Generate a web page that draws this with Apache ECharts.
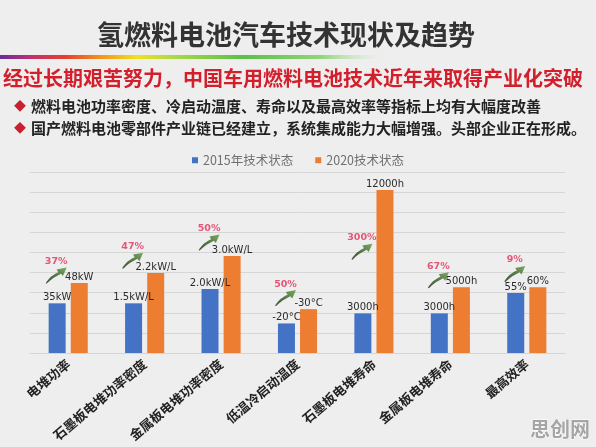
<!DOCTYPE html>
<html>
<head>
<meta charset="utf-8">
<script src="https://cdn.jsdelivr.net/npm/echarts@6/dist/echarts.min.js"></script>
<style>
html,body{margin:0;padding:0;background:#eeeeee;}
#chart{width:596px;height:447px;}
</style>
</head>
<body>
<div id="chart"></div>
<script>
// ---- data ----
const categories = ['电堆功率','石墨板电堆功率密度','金属板电堆功率密度','低温冷启动温度','石墨板电堆寿命','金属板电堆寿命','最高效率'];
const seriesNames = ['2015年技术状态','2020技术状态'];
// drawn bar heights (relative, in gridline units)
const barHeights2015 = [2.47, 2.47, 3.18, 1.47, 1.97, 1.97, 2.98];
const barHeights2020 = [3.48, 3.98, 4.82, 2.18, 8.10, 3.27, 3.27];
const valueLabels2015 = ['35kW','1.5kW/L','2.0kW/L','-20°C','3000h','3000h','55%'];
const valueLabels2020 = ['48kW','2.2kW/L','3.0kW/L','-30°C','12000h','5000h','60%'];
const improvementLabels = ['37%','47%','50%','50%','300%','67%','9%'];
const arrowLevels = [3.85, 4.59, 5.49, 2.73, 5.04, 3.62, 3.93];
const yTicks = [0,1,2,3,4,5,6,7,8,9];

const titleText = '氢燃料电池汽车技术现状及趋势';
const subtitleText = '经过长期艰苦努力，中国车用燃料电池技术近年来取得产业化突破';
const bullets = ['燃料电池功率密度、冷启动温度、寿命以及最高效率等指标上均有大幅度改善',
                 '国产燃料电池零部件产业链已经建立，系统集成能力大幅增强。头部企业正在形成。'];
const watermark = '思创网';

const CJK = "'Noto Sans CJK SC', 'Noto Sans', sans-serif";
const NUM = "'DejaVu Sans', Verdana, sans-serif";

const chart = echarts.init(document.getElementById('chart'), null, {renderer:'canvas'});

const arrowPath = 'path://M0,84 C16,54 38,38 60,27 L52,13 L100,3 L82,47 L73,35 C50,48 26,62 5,86 Z';

const option = {
  backgroundColor: '#eeeeee',
  animation: false,
  graphic: [
    { type:'text', x:286, y:35, style:{ text:titleText, font:"bold 27px "+CJK, fill:'#333333', align:'center', verticalAlign:'middle' } },
    { type:'rect', shape:{ x:0, y:55, width:392, height:4 },
      style:{ fill: new echarts.graphic.LinearGradient(0,0,1,0,[
        {offset:0, color:'#6a2c9c'},
        {offset:0.08, color:'#c2306e'},
        {offset:0.17, color:'#e8402c'},
        {offset:0.26, color:'#f3961e'},
        {offset:0.35, color:'#f0e020'},
        {offset:0.45, color:'#a8d848'},
        {offset:0.62, color:'#5cbf48'},
        {offset:0.82, color:'#8fd67a'},
        {offset:1, color:'rgba(238,238,238,0)'}
      ]) } },
    { type:'text', x:293, y:78, style:{ text:subtitleText, font:"bold 20px "+CJK, fill:'#d21f2b', align:'center', verticalAlign:'middle' } },
    { type:'text', x:20, y:106, style:{ text:'◆', font:"12px "+CJK, fill:'#c8202e', align:'center', verticalAlign:'middle' } },
    { type:'text', x:31, y:106.5, style:{ text:bullets[0], font:"bold 15px "+CJK, fill:'#222222', align:'left', verticalAlign:'middle' } },
    { type:'text', x:20, y:128, style:{ text:'◆', font:"12px "+CJK, fill:'#c8202e', align:'center', verticalAlign:'middle' } },
    { type:'text', x:31, y:128.5, style:{ text:bullets[1], font:"bold 15px "+CJK, fill:'#222222', align:'left', verticalAlign:'middle' } },
    { type:'text', x:560, y:429, style:{ text:watermark, font:"bold 20px "+CJK, fill:'#a6a6a6', stroke:'#ffffff', lineWidth:1, align:'center', verticalAlign:'middle' } }
  ],
  legend: {
    data: seriesNames,
    top: 149,
    left: 'center',
    itemWidth: 6,
    itemHeight: 6,
    itemGap: 22,
    icon: 'rect',
    textStyle: { color:'#707070', fontSize:12.5, fontFamily:CJK }
  },
  grid: { left:30, right:31, top:172, bottom:94, containLabel:false },
  xAxis: {
    type:'category',
    data: categories,
    axisTick:{ show:false },
    axisLine:{ show:true, lineStyle:{ color:'#d4d4d4', width:1 } },
    axisLabel:{ interval:0, rotate:40, margin:9, fontSize:13, fontWeight:'bold', color:'#222222', fontFamily:CJK }
  },
  yAxis: {
    type:'value',
    min: yTicks[0],
    max: yTicks[yTicks.length-1],
    interval: 1,
    axisLabel:{ show:false },
    axisLine:{ show:false },
    axisTick:{ show:false },
    splitLine:{ lineStyle:{ color:'#d6d6d6', width:1 } }
  },
  series: [
    {
      name: seriesNames[0], type:'bar', barWidth:17, barGap:'30%',
      itemStyle:{ color:'#4472c4' },
      data: barHeights2015.map((v,i)=>({ value:v, label:{ formatter: valueLabels2015[i] } })),
      label:{ show:true, position:'top', distance:1, color:'#2b2b2b', fontSize:10, fontFamily:NUM }
    },
    {
      name: seriesNames[1], type:'bar', barWidth:17, barGap:'30%',
      itemStyle:{ color:'#ed7d31' },
      data: barHeights2020.map((v,i)=>({ value:v, label:{ formatter: valueLabels2020[i] } })),
      label:{ show:true, position:'top', distance:1, color:'#2b2b2b', fontSize:10, fontFamily:NUM }
    },
    {
      name: 'arrows', type:'scatter',
      symbol: arrowPath, symbolSize:[21,16], symbolOffset:[-12,0],
      itemStyle:{ color: new echarts.graphic.LinearGradient(0,1,1,0,[
        {offset:0, color:'#172d0e'},
        {offset:0.5, color:'#2f5a1e'},
        {offset:1, color:'#5f9a3e'}
      ]) },
      data: arrowLevels.map((v,i)=>({ value:[i, v], label:{ formatter: improvementLabels[i] } })),
      label:{ show:true, position:'top', distance:1, color:'#e0305a', fontSize:9.5, fontWeight:'bold', fontFamily:NUM },
      z: 5
    }
  ]
};
chart.setOption(option);
</script>
</body>
</html>
